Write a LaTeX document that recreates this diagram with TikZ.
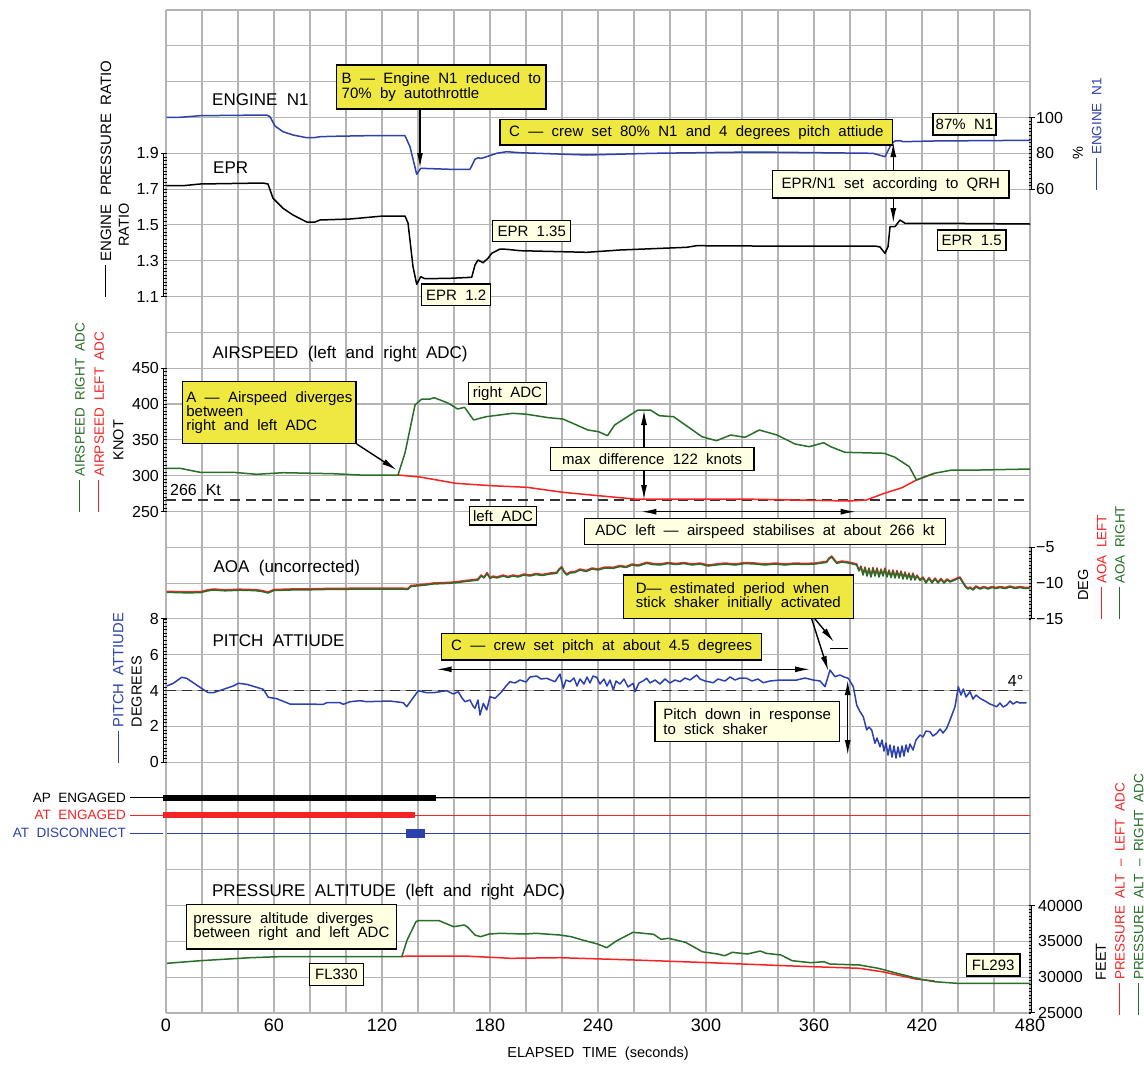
\documentclass[tikz,border=0pt]{standalone}
\usepackage{fontspec}
\setmainfont{Liberation Sans}[WordSpace=2]
\usetikzlibrary{arrows.meta}
\definecolor{cblue}{RGB}{45,65,170}
\definecolor{cred}{RGB}{245,35,35}
\definecolor{cgreen}{RGB}{40,110,40}
\definecolor{cyel}{RGB}{238,232,64}
\definecolor{ccream}{RGB}{255,255,226}
\definecolor{cgrid}{RGB}{180,180,180}
\newcommand\fsz[2]{\fontsize{#1}{#2}\selectfont}
\newcommand\sline{\rule[0.33em]{32pt}{1pt}\hspace{3pt}}
\newcommand\lrul[2]{%
  \draw[line width=1pt] (163.6,#1) -- (163.6,{#1+3.582*#2});
  \foreach \i in {0,...,#2} \draw[line width=0.7pt] (163.6,{#1+3.582*\i}) -- (166.5,{#1+3.582*\i});
  \draw[line width=1pt] (160.5,#1) -- (166.5,#1);
  \draw[line width=1pt] (160.5,{#1+3.582*#2}) -- (166.5,{#1+3.582*#2});}
\newcommand\rrul[2]{%
  \draw[line width=1pt] (1031.4,#1) -- (1031.4,{#1+3.582*#2});
  \foreach \i in {0,...,#2} \draw[line width=0.7pt] (1028.6,{#1+3.582*\i}) -- (1031.4,{#1+3.582*\i});
  \draw[line width=1pt] (1028.6,#1) -- (1034.5,#1);
  \draw[line width=1pt] (1028.6,{#1+3.582*#2}) -- (1034.5,{#1+3.582*#2});}
\newcommand\aoacurve[1]{\draw[#1] plot coordinates {(166.7,592.3) (185,592.8) (200,592.7) (207,591) (213,590) (225,590.8) (240,590.2) (255,590.6) (262,591.5) (268,593) (274,590.5) (290,590) (310,589.8) (333,589.3) (360,589.2) (385,589) (408,589.3) (411,586.5) (418,585.8) (426,585) (433,584) (442,583.6) (450,583.3) (458,582.5) (465,581.5) (472,580.8) (478,580) (481,576) (484,578) (487,573.5) (490,578.5) (493,577) (497,578) (503,576) (508,577.5) (513,576) (518,577) (524,575) (530,576) (536,574.5) (542,575.5) (550,574) (556.7,573.3) (559,570) (561.7,567.5) (564,572) (566.7,575) (570,573) (575,572.5) (580,570) (586,571.5) (592,569) (598,570) (605,568) (613.3,568.3) (620,566.5) (626,567.5) (632,565) (638,566) (646.7,563.3) (653,564.5) (660,565) (668,563.5) (676,564.5) (684,563.5) (692,565) (700,564) (708,566) (716,565) (725,564) (735,565) (745,563.5) (755,564) (765,565) (775,564) (785,565) (795,564) (805,564.5) (815,564) (822,563) (826.7,562.3) (829,559) (831.7,557) (834,560) (836.7,563.3) (842,562) (850,563.3) (856.7,565) (859,571) (861,567) (863,575) (865,568) (867,576) (869,569) (871,577) (873,568.5) (875,576) (877,569) (879,577) (881,570) (883,576) (885,569) (887,577) (889,571) (891,577.5) (893,571) (895,578) (897,571.5) (899,578) (901,572) (903,579) (905,573) (907,579) (909,574) (911,580) (913,574) (915,580) (917,576) (920,580.5) (923,578) (926,583) (929,578.5) (932,583) (935,579) (938,583) (941,579.5) (944,583) (947,580) (950,582) (955,580) (958,578.5) (960,578) (963,583) (966,587.5) (968,589) (970,588) (973,590) (976,587) (980,589) (984,587.5) (988,589) (992,587.5) (996,588.5) (1000,587.5) (1005,588.5) (1010,587) (1015,588.5) (1020,587.5) (1025,588.5) (1030,588.3)};}
\begin{document}
\begin{tikzpicture}[x=1pt,y=-1pt,
  gridln/.style={draw=cgrid,line width=1.1pt},
  curve/.style={line width=1.5pt,line join=round},
  ybox/.style={draw=black,line width=1.3pt,fill=cyel,inner sep=0pt,align=left,font=\fsz{15pt}{14.3pt}},
  cbox/.style={ybox,fill=ccream},
  arr/.style={-{Latex[length=15pt,width=6pt]},line width=1.4pt},
  darr/.style={{Latex[length=15pt,width=6pt]}-{Latex[length=15pt,width=6pt]},line width=1.4pt},
  dashln/.style={draw=black!80,line width=1.4pt,dash pattern=on 10pt off 6pt},
  ttl/.style={anchor=base west,inner sep=0pt,font=\fsz{17pt}{20pt}},
  sidelab/.style={rotate=90,anchor=west,inner sep=0pt,font=\fsz{13.5pt}{16pt}},
  sidec/.style={rotate=90,inner sep=0pt,font=\fsz{13.5pt}{16pt}},
  ylab/.style={anchor=east,inner sep=0pt,font=\fsz{16pt}{18pt}},
  rlab/.style={anchor=west,inner sep=0pt,font=\fsz{16pt}{18pt}},
  xlab/.style={inner sep=0pt,font=\fsz{18pt}{20pt}},
  barlab/.style={anchor=east,inner sep=0pt,font=\fsz{13.5pt}{16pt}}]
\useasboundingbox (0,0) rectangle (1144,1066);
\fill[white] (0,0) rectangle (1144,1066);
% grid
\foreach \k in {0,...,24} \draw[gridln] ({166+36*\k},10) -- ({166+36*\k},1013);
\foreach \n in {0,...,28} \draw[gridln] (166,{10+35.82*\n}) -- (1030,{10+35.82*\n});
% rulers
\lrul{153.3}{40}
\lrul{368.2}{40}
\lrul{618.9}{40}
\rrul{117.5}{20}
\rrul{547.3}{20}
\rrul{905.5}{30}
% axis numbers left
\node[ylab] (e19) at (159,153.3) {1.9};
\node[ylab] (e17) at (159,189.1) {1.7};
\node[ylab] (e15) at (159,225) {1.5};
\node[ylab] (e13) at (159,260.8) {1.3};
\node[ylab] (e11) at (159,296.6) {1.1};
\node[ylab] (a450) at (159,368.2) {450};
\node[ylab] (a400) at (159,404) {400};
\node[ylab] (a350) at (159,439.8) {350};
\node[ylab] (a300) at (159,475.7) {300};
\node[ylab] (a250) at (159,511.5) {250};
\node[ylab] (p8) at (159,618.9) {8};
\node[ylab] (p6) at (159,654.7) {6};
\node[ylab] (p4) at (159,690.6) {4};
\node[ylab] (p2) at (159,726.4) {2};
\node[ylab] (p0) at (159,762.2) {0};
% axis numbers right
\node[rlab] (n100) at (1036,117.5) {100};
\node[rlab] (n80) at (1036,153.3) {80};
\node[rlab] (n60) at (1036,189.1) {60};
\node[rlab] (g5) at (1036,547.3) {−5};
\node[rlab] (g10) at (1036,583.1) {−10};
\node[rlab] (g15) at (1036,618.9) {−15};
\node[rlab] (h40) at (1038,905.5) {40000};
\node[rlab] (h35) at (1038,941.3) {35000};
\node[rlab] (h30) at (1038,977.2) {30000};
\node[rlab] (h25) at (1038,1013) {25000};
% x axis
\foreach \t [count=\c from 0] in {0,60,120,180,240,300,360,420,480}
  \node[xlab] (x\c) at ({166+108*\c},1025.7) {\t};
\node[inner sep=0pt,font=\fsz{14.5pt}{16pt}] (xt) at (598,1054) {ELAPSED TIME (seconds)};
% side labels
\node[sidelab,font=\fsz{15pt}{17pt}] (lepr) at (106,297) {\sline ENGINE PRESSURE RATIO};
\node[sidec,font=\fsz{14.5pt}{16pt}] (lratio) at (124,225) {RATIO};
\node[sidelab,text=cgreen] (lasr) at (80,511.7) {\sline AIRSPEED RIGHT ADC};
\node[sidelab,text=cred] (lasl) at (99.3,511.7) {\sline AIRPSEED LEFT ADC};
\node[sidec,font=\fsz{14.5pt}{16pt}] (lknot) at (118.3,440) {KNOT};
\node[sidelab,text=cblue,font=\fsz{14.8pt}{17pt}] (lpit) at (118.3,763) {\sline PITCH ATTIUDE};
\node[sidec,font=\fsz{14.5pt}{16pt}] (ldeg) at (136.7,691.7) {DEGREES};
\node[sidec,font=\fsz{14.5pt}{16pt}] (lpct) at (1078,153) {\%};
\node[sidelab,text=cblue] (ln1) at (1096.7,190) {\sline ENGINE N1};
\node[sidec,font=\fsz{14.5pt}{16pt}] (ldg) at (1083,585) {DEG};
\node[sidelab,text=cred] (laoal) at (1101.7,619) {\sline AOA LEFT};
\node[sidelab,text=cgreen] (laoar) at (1120,619) {\sline AOA RIGHT};
\node[sidec,font=\fsz{14.5pt}{16pt}] (lfeet) at (1101,961.7) {FEET};
\node[sidelab,text=cred] (lpal) at (1120,1015) {\sline PRESSURE ALT – LEFT ADC};
\node[sidelab,text=cgreen] (lpar) at (1138.6,1015) {\sline PRESSURE ALT – RIGHT ADC};
% titles
\node[ttl] (tn1) at (212,105.1) {ENGINE N1};
\node[ttl] (tepr) at (213,173.8) {EPR};
\node[ttl] (tas) at (212.3,358.8) {AIRSPEED (left and right ADC)};
\node[ttl] (taoa) at (213.3,572.8) {AOA (uncorrected)};
\node[ttl] (tpit) at (212.3,646.1) {PITCH ATTIUDE};
\node[ttl] (talt) at (211.8,896.1) {PRESSURE ALTITUDE (left and right ADC)};
% dashed reference lines
\draw[dashln] (166,500) -- (1030,500);
\draw[dashln] (166,690.6) -- (1023,690.6);
\node[anchor=west,inner sep=0pt,font=\fsz{16pt}{18pt}] (k266) at (170,490) {266 Kt};
\node[inner sep=0pt,font=\fsz{16pt}{18pt}] (d4) at (1015.5,680.7) {4°};
% N1
\draw[curve,cblue] plot coordinates {(166.7,117.3) (180,117.3) (200,115.7) (266.7,115) (270,116.7) (275,126) (283,131.7) (293,135) (306.7,137.7) (315,137.5) (320,136.7) (333,136.3) (366.7,135.7) (405,135.7) (410,146.7) (416.7,174.3) (420.7,168.3) (450,169.3) (470,169.3) (475,159.3) (478,157.7) (481,158.5) (486.7,156.7) (496.7,153.3) (506.7,151.7) (520,152.7) (586.7,155) (653,153.3) (753,152) (873,153.3) (885,156.7) (891.7,143.3) (895,141) (900,140.7) (903,141.7) (933,141) (1030,140.3)};
% EPR
\draw[curve,black] plot coordinates {(166.7,185.7) (183,185.7) (200,184) (263,183) (268,184) (273,198.3) (283,208.3) (293,215) (306.7,222) (315,222) (320,220) (350,219) (383,216) (405,216) (408,223) (413,266.7) (416.7,284.3) (420.7,276.7) (425,278.7) (450,278.3) (471.7,277.3) (475,265) (478,260) (483,262.7) (488,258.3) (491.7,253.3) (500,249) (506.7,249.3) (520,250.7) (586.7,252.3) (620,250) (686.7,247.3) (696.7,245.7) (753,246) (875,246) (880,247) (885,253.3) (888,246.7) (890,226.7) (895,226.7) (900,220) (905,223.3) (940,223.3) (1030,224)};
% airspeed
\draw[curve,cred] plot coordinates {(398,475) (416.7,476.7) (420,477) (455.7,483.3) (491.4,485.7) (527,487.3) (562.9,492.3) (598.6,495.7) (634.3,499) (670,499) (741.4,499) (848.6,501) (866.4,500) (884.3,493.3) (902,487.7) (916.4,480) (934.3,473.3)};
\draw[curve,cgreen] plot coordinates {(166.7,468.3) (180,468.3) (200,472.3) (233,472.3) (256.7,474.3) (283.3,472.7) (333,473.7) (360,475) (398,475) (405,453) (415,405) (421.7,399) (430,399) (434.3,397.7) (448.6,403.3) (457.5,409) (464.6,407.3) (473.6,420) (486,416.7) (512.9,413.3) (527,414.3) (548.6,417.7) (562.9,419) (587.9,430) (598.6,431.7) (607.5,435.7) (614.6,425) (637.9,410) (650.4,410) (659.3,415.7) (673.6,416.7) (702,436.7) (716.4,440.7) (730.7,435) (745,437.3) (759.3,430) (777,435) (795,444) (809.3,446.7) (823.6,442.7) (830.7,446.7) (845,452.3) (884.3,453.3) (895,457.3) (909.3,466.7) (916.4,480) (934.3,473.3) (952,470) (980,470) (1030,469)};
% AOA
\begin{scope}[yshift=1pt]
\aoacurve{curve,cred}
\end{scope}
\aoacurve{curve,cgreen}
% pitch
\draw[curve,cblue] plot coordinates {(166.7,686) (173.3,683.3) (181.7,677.3) (186.7,678.3) (200,687.3) (208.3,692.7) (213.3,692.7) (233.3,686) (238.3,683.3) (246.7,684.3) (260,688.3) (263.3,689.3) (268.3,697.3) (276.7,698.7) (290,704) (323.3,704.3) (326.7,702.7) (340,702.7) (343.3,704.3) (350,701.7) (360,700.7) (366.7,701.7) (390,701) (403.3,702.7) (406.7,706.7) (418.3,690.7) (426.7,692.7) (433.3,692.7) (446.7,690.7) (453.3,694) (458.3,691.7) (462,698) (465,701.7) (470,700) (473,706) (475,708.3) (478,700) (480,715) (483.3,703.3) (486.7,710) (490,696.7) (495,698.3) (501.7,691.7) (506,686) (510,681.7) (515,683) (520,680) (526,682) (530,677) (536.7,676) (541,679) (546.7,678.3) (555,681.7) (560,674) (563.3,688.3) (566,680) (570,681.7) (574,678) (577,686) (580,679) (584,684) (587,677) (590,683) (593,676) (596.7,677.3) (600,684) (604,679) (607,686) (610,680) (613.3,690) (616,681) (620,684) (624,679) (628,687) (633.3,683.3) (635,691.7) (639,683) (643,681) (646.7,678.3) (650,683) (655,680) (660,684) (665,679) (670,683) (675,680) (680,681.7) (685,678) (690,680) (696.7,675) (700,679) (705,681) (713.3,682.7) (718,679) (725,681) (730,677) (735,680) (740,678) (746.7,678.3) (752,681) (758,679) (763.3,682.7) (770,681) (780,680) (796.7,680) (805,678) (813.3,680) (820,681) (825,686.7) (830,670) (835,676.7) (840,675) (844,677) (848.3,678.3) (853.3,686.7) (856.7,705) (860,711.7) (863.3,716.7) (866.7,730) (869,727) (871.7,730) (875,743.3) (877,738) (880,746.7) (882,740) (884,751) (886,743) (888,755) (890,745) (892,757) (894,746) (896,758) (898,747) (900,757) (902,746) (904,756) (906,745) (908,752) (910,744) (913,750) (916,740) (920,735) (923,737) (926,731) (930,731.7) (933,736) (936.7,733.3) (940,729) (943,733) (946.7,728.3) (950,720) (955,706.7) (958.3,686.7) (961,695) (963.3,689) (966,697) (970,691.7) (973,699) (976,695) (980,698.3) (985,701) (990,704) (996.7,706.7) (1000,703) (1003,707) (1006.7,705) (1010,701) (1013,704) (1016.7,701.7) (1020,703) (1026.7,702.7)};
% AP / AT
\draw[line width=1pt,black] (130,797.8) -- (1030,797.8);
\draw[line width=6pt,black] (163.3,797.8) -- (436,797.8);
\draw[line width=1pt,cred] (130,815) -- (1030,815);
\draw[line width=6.5pt,cred] (163.3,815) -- (415,815);
\draw[line width=1pt,cblue] (130,833.3) -- (163,833.3);
\draw[line width=1pt,cblue] (167,833.3) -- (1030,833.3);
\fill[cblue] (406,829) rectangle (425,837.7);
\node[barlab] (lap) at (126,797.8) {AP ENGAGED};
\node[barlab,text=cred] (lat) at (126,815) {AT ENGAGED};
\node[barlab,text=cblue] (latd) at (126,833.3) {AT DISCONNECT};
% altitude
\draw[curve,cred] plot coordinates {(401.8,956.7) (407.1,956) (464.3,956) (510.7,958.3) (560,957.7) (634.9,960) (709.8,962.7) (784.7,965.7) (859.6,968.3) (882.1,971.7) (915.8,979) (934.5,981)};
\draw[curve,cgreen] plot coordinates {(166.8,963.3) (200,960.7) (250,957.7) (278.6,956.7) (401.8,956.7) (407.1,940) (416,921.7) (417.9,920.7) (439.3,920.7) (442.9,922.3) (453.6,926.7) (464.3,925) (467.9,927.3) (475,935) (480.4,936.7) (489.3,934) (500,933.3) (525,934) (535.7,933.3) (560,935) (571.2,936.7) (582.5,940) (597.5,944) (606.8,947.7) (616.2,941) (633,932.3) (653.6,934.3) (661.1,939.3) (668.6,938.3) (685.5,942.3) (702.3,951.7) (717.3,954) (724.8,955.7) (732.3,952.3) (747.3,954) (760.4,951) (766,953.3) (781,955) (792.2,960.7) (810.9,962.7) (824,961.7) (829.7,964) (859.6,965) (878.4,968.3) (897.1,973.3) (919.6,979) (934.5,981.7) (957,983.3) (1030,983.3)};
% annotation boxes
\node[ybox,minimum width=209.3pt,minimum height=44pt] (B) at (441.35,87) {B — Engine N1 reduced to\\70\% by autothrottle};
\node[ybox,minimum width=392.7pt,minimum height=25.7pt] (Ct) at (696.35,132.15) {C — crew set 80\% N1 and 4 degrees pitch attiude};
\node[cbox,minimum width=63pt,minimum height=21.7pt] (N87) at (964.5,124.15) {87\% N1};
\node[cbox,minimum width=236.3pt,minimum height=27.3pt] (QRH) at (890.85,184.35) {EPR/N1 set according to QRH};
\node[cbox,minimum width=68.7pt,minimum height=20.7pt] (E15) at (971.65,240.35) {EPR 1.5};
\node[cbox,minimum width=78pt,minimum height=21pt] (E135) at (531.7,231.2) {EPR 1.35};
\node[cbox,minimum width=69pt,minimum height=21.7pt] (E12) at (456.2,294.85) {EPR 1.2};
\node[ybox,minimum width=173.3pt,minimum height=61.6pt] (A) at (269.35,412.5) {A — Airspeed diverges\\between\\right and left ADC};
\node[cbox,minimum width=78.6pt,minimum height=21.7pt] (rADC) at (507.5,393.15) {right ADC};
\node[cbox,minimum width=67.5pt,minimum height=18.3pt] (lADC) at (503.05,515.85) {left ADC};
\node[cbox,minimum width=203.5pt,minimum height=23.4pt] (maxd) at (652.15,459) {max difference 122 knots};
\node[cbox,minimum width=361.4pt,minimum height=26pt] (stab) at (765,531.3) {ADC left — airspeed stabilises at about 266 kt};
\node[ybox,minimum width=230pt,minimum height=43.3pt] (D) at (738.3,596.65) {D— estimated period when\\stick shaker initially activated};
\node[ybox,minimum width=320pt,minimum height=26.7pt] (Cp) at (601.7,646.65) {C — crew set pitch at about 4.5 degrees};
\node[cbox,minimum width=184.3pt,minimum height=40pt] (PD) at (747.15,721.7) {Pitch down in response\\to stick shaker};
\node[cbox,minimum width=210pt,minimum height=44.7pt] (PA) at (291.4,926.65) {pressure altitude diverges\\between right and left ADC};
\node[cbox,minimum width=53.6pt,minimum height=22.4pt] (FL330) at (336.4,974.5) {FL330};
\node[cbox,minimum width=53.6pt,minimum height=22pt] (FL293) at (993.2,965) {FL293};
% connectors
\coordinate (Btip) at (420,168);
\draw[arr] (B.south -| Btip) -- (Btip);
\coordinate (Qup) at (893.3,142);
\coordinate (Qdn) at (893.3,223);
\draw[arr] (QRH.north -| Qup) -- (Qup);
\draw[arr] (QRH.south -| Qdn) -- (Qdn);
\coordinate (Atip) at (396.7,470);
\draw[arr] (A.south east) -- (Atip);
\coordinate (Mup) at (644,410);
\coordinate (Mdn) at (644,500);
\draw[arr] (maxd.north -| Mup) -- (Mup);
\draw[arr] (maxd.south -| Mdn) -- (Mdn);
\coordinate (S1) at (641.4,511.7);
\coordinate (S2) at (855.7,511.7);
\draw[darr] (S1) -- (S2);
\coordinate (P1) at (436.7,669.3);
\coordinate (P2) at (810,669.3);
\draw[darr] (P1) -- (P2);
\coordinate (Ds1) at (811.7,618.3);
\coordinate (Ds2) at (815,618.3);
\coordinate (Dt1) at (828.3,671);
\coordinate (Dt2) at (834,642);
\draw[arr] (D.south -| Ds1) -- (Dt1);
\draw[arr] (D.south -| Ds2) -- (Dt2);
\coordinate (Dl1) at (830,648.3);
\coordinate (Dl2) at (848.3,648.3);
\draw[line width=1.4pt] (Dl1) -- (Dl2);
\coordinate (V1) at (847.7,680);
\coordinate (V2) at (847.7,755);
\draw[darr] (V1) -- (V2);
\end{tikzpicture}
\end{document}
